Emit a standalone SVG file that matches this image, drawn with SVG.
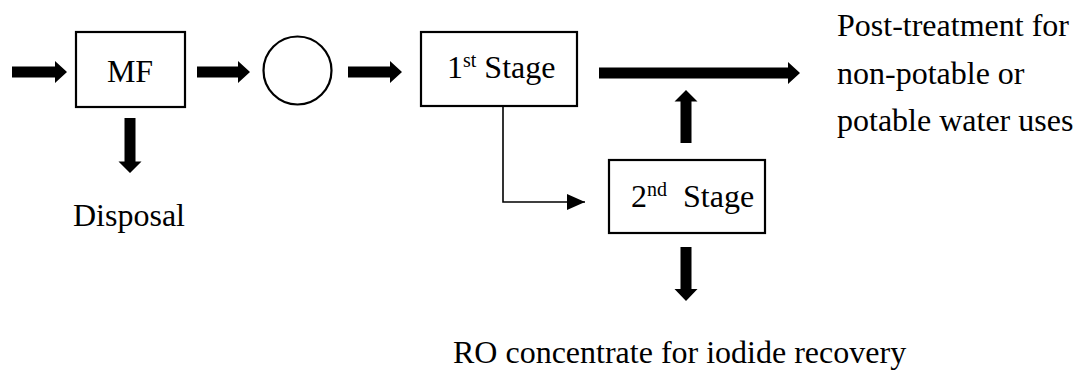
<svg xmlns="http://www.w3.org/2000/svg" width="1086" height="370" viewBox="0 0 1086 370">
<style>
.box{fill:#fff;stroke:#000;stroke-width:2.2}
.t{font-size:32px;fill:#000}
.thick{fill:#000;stroke:none}
.thin{fill:none;stroke:#000;stroke-width:1.6}
</style>
<defs>
<marker id="tri" markerWidth="18" markerHeight="16" refX="18" refY="8" orient="auto" markerUnits="userSpaceOnUse">
<path d="M0,0 L18,8 L0,16 Z" fill="#000"/>
</marker>
</defs>
<rect width="1086" height="370" fill="#fff"/>
<g id="connectors">
<polygon class="thick" points="12,66.5 55,66.5 55,61 67,72 55,83 55,77.5 12,77.5"/>
<polygon class="thick" points="197,66.5 238,66.5 238,61 250,72 238,83 238,77.5 197,77.5"/>
<polygon class="thick" points="348,66.5 390,66.5 390,61 402,72 390,83 390,77.5 348,77.5"/>
<polygon class="thick" points="124.5,118 135.5,118 135.5,161.5 141.5,161.5 130,173 118.5,161.5 124.5,161.5"/>
<polygon class="thick" points="599,67.5 788,67.5 788,62 800,73 788,84 788,78.5 599,78.5"/>
<polygon class="thick" points="680.5,143 691.5,143 691.5,101.5 697.5,101.5 686,90 674.5,101.5 680.5,101.5"/>
<polygon class="thick" points="680.5,247 691.5,247 691.5,289 697.5,289 686,301 674.5,289 680.5,289"/>
<polyline class="thin" points="503,106 503,202 585,202" marker-end="url(#tri)"/>
</g>
<g font-family="Liberation Serif, Tinos, Times New Roman, DejaVu Serif, serif">
<g id="mf">
<rect class="box" x="76" y="32" width="109" height="75"/>
<text class="t" x="130" y="82" text-anchor="middle">MF</text>
</g>
<g id="circle">
<circle cx="297.5" cy="70.5" r="34" fill="#fff" stroke="#000" stroke-width="2.2"/>
</g>
<g id="stage1">
<rect class="box" x="421" y="32" width="156" height="74"/>
<text class="t" x="447" y="78">1<tspan font-size="20" dy="-11">st</tspan><tspan dy="11"> Stage</tspan></text>
</g>
<g id="stage2">
<rect class="box" x="609" y="160" width="156" height="73"/>
<text class="t" x="631" y="207" xml:space="preserve">2<tspan font-size="20" dy="-11">nd</tspan><tspan dy="11">  Stage</tspan></text>
</g>
<g id="disposal">
<text class="t" x="73" y="226">Disposal</text>
</g>
<g id="post">
<text class="t" x="837" y="36">Post-treatment for</text>
<text class="t" x="837" y="83.5">non-potable or</text>
<text class="t" x="837" y="131">potable water uses</text>
</g>
<g id="ro">
<text class="t" x="453" y="363">RO concentrate for iodide recovery</text>
</g>
</g>
</svg>
